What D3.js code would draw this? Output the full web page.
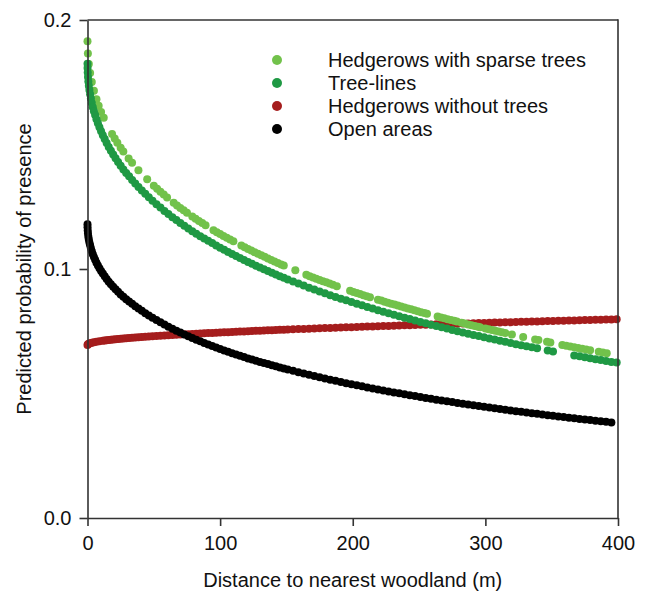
<!DOCTYPE html>
<html>
<head>
<meta charset="utf-8">
<script src="https://cdn.jsdelivr.net/npm/d3@7"></script>
<style>
  body { margin: 0; background: #fff; }
  svg { display: block; }
  text { font-family: "Liberation Sans", Arial, sans-serif; fill: #111; }
</style>
</head>
<body>
<svg id="chart" width="651" height="592"></svg>
<script>
// Habitat types shown in the legend (top to bottom)
const habitatNames = ["Hedgerows with sparse trees", "Tree-lines", "Hedgerows without trees", "Open areas"];

// Predicted probability of presence at each surveyed site: [distance to woodland (m), probability]
const sparseTrees = [
  [0,.1915],[0.3,.1865],[1,.1823],[1.96,.1787],[3.24,.1751],[4.84,.1716],[6.76,.1682],[8.41,.1656],[10.24,.1631],[12.25,.1607],
  [18.5,.1542],[20.5,.1524],[22.5,.1507],[25,.1487],[27,.1472],[31,.1444],[33.6,.1427],[38.4,.1397],[45,.1360],
  [50,.1334],[52.5,.1322],[55,.1310],[57.5,.1299],[60,.1287],
  [65,.1266],[67.5,.1255],[70,.1245],[72.5,.1236],[75,.1226],
  [79,.1211],[81.5,.1202],[84,.1193],[86.5,.1185],[89,.1176],
  [95,.1156],[97.5,.1148],[100,.1141],[102.5,.1133],[105,.1126],[107.5,.1118],[110,.1111],
  [116,.1094],[118.5,.1087],[121,.1080],[123.5,.1074],[126,.1067],[128.5,.1061],[131,.1055],[133.5,.1049],[136,.1042],[138.5,.1036],[141,.1030],[143.5,.1024],[146,.1018],[148,.1014],
  [156.7,.0995],
  [165,.0977],[167.5,.0971],[170,.0966],[172.5,.0961],[175,.0956],[177.5,.0951],[180,.0947],[182.5,.0942],[185,.0937],[188,.0931],
  [198,.0913],[200.5,.0908],[203,.0904],[205.5,.0900],[208,.0895],[210.5,.0891],[213,.0887],
  [219,.0877],[221.5,.0873],[224,.0868],[226.5,.0864],[229,.0860],[231.5,.0857],[234,.0853],[236.5,.0849],[239,.0845],[241.5,.0841],[244,.0838],[246.5,.0834],[249,.0830],[251.5,.0826],[254,.0823],[256,.0820],
  [264,.0809],[266.5,.0805],[269,.0802],[271.5,.0798],[274,.0795],[276.5,.0792],[278.5,.0789],
  [282,.0784],[284.5,.0781],[287,.0777],[289.5,.0774],[292,.0771],[294.5,.0768],[296,.0766],
  [300,.0761],[302.5,.0758],[305,.0755],[307.5,.0752],[310,.0749],[312.5,.0746],[315,.0743],
  [320,.0737],[328.5,.0727],[337.5,.0717],[340,.0715],[346.5,.0708],[349,.0705],
  [358,.0695],[361,.0692],[364,.0689],
  [367,.0686],[370,.0683],[373,.0680],[376,.0677],[379,.0674],
  [385.5,.0668],[388.5,.0665],[391.5,.0662]
];

const treeLines = [
  [0,.1824],[0.04,.1807],[0.16,.1789],[0.36,.1771],[0.64,.1753],[1,.1736],[1.44,.1719],[1.96,.1702],[2.56,.1685],[3.24,.1667],
  [4,.1650],[4.84,.1634],[5.76,.1618],[6.76,.1601],[7.84,.1585],[9,.1569],[10.24,.1553],[11.56,.1537],[12.96,.1522],[14.44,.1506],
  [16,.1490],[17.64,.1475],[19.36,.1460],[21.16,.1445],[23.04,.1430],[25,.1415],[27.04,.1400],[29.16,.1386],[31.36,.1372],[33.64,.1357],
  [36,.1343],[38.44,.1329],[40.96,.1315],[43.56,.1302],[46.24,.1288],[49,.1274],
  [52,.1260],[55,.1247],[58,.1233],[61,.1221],[64,.1208],[67,.1197],[70,.1185],[73,.1174],[76,.1163],[79,.1152],
  [82,.1142],[85,.1132],[88,.1122],[91,.1113],[94,.1104],[97,.1094],[100,.1085],[103,.1077],[106,.1068],[109,.1060],
  [112,.1052],[115,.1044],[118,.1036],[121,.1028],[124,.1021],[127,.1013],[130,.1006],[133,.0999],[136,.0992],[139,.0985],
  [142,.0978],[145,.0971],[148,.0965],[151,.0958],
  [155,.0950],[159,.0942],[163,.0934],[167,.0925],[171,.0918],[175,.0910],[179,.0903],[183,.0895],[187,.0888],[191,.0881],
  [195,.0874],[199,.0867],[203,.0860],[207,.0854],[211,.0847],[215,.0841],[219,.0834],[223,.0828],[227,.0822],[231,.0816],
  [235,.0810],[239,.0804],[243,.0799],[247,.0793],[251,.0787],[255,.0782],[259,.0776],[263,.0771],[267,.0766],[271,.0761],
  [275,.0755],[279,.0750],[283,.0745],[287,.0740],[291,.0735],[295,.0731],[299,.0726],[303,.0721],[307,.0717],[311,.0712],
  [315,.0708],[319,.0703],[323,.0698],[327,.0694],[331,.0690],[335,.0686],[339,.0682],[347,.0673],[351,.0669],
  [367,.0653],[371,.0650],[375,.0646],[379,.0642],[383,.0638],[387,.0635],[391,.0631],[395,.0627],[399,.0624]
];

const noTrees = [
  [0,.0695],[0.36,.0698],[1,.0700],[1.96,.0702],[3.24,.0704],[4.84,.0706],[6.76,.0708],[9,.0710],[11.56,.0712],[12.96,.0713],
  [14.44,.0714],[16,.0715],[17.64,.0716],[19.36,.0717],[21.16,.0718],[23.04,.0719],[25,.0720],[27.04,.0721],[29.16,.0722],[31.36,.0723],
  [33.64,.0724],[36,.0725],[38.44,.0726],[40.96,.0727],[43.56,.0728],[46.24,.0729],[49,.0730],
  [52,.0731],[55,.0732],[58,.0733],[61,.0734],[64,.0735],[67,.0736],[70,.0737],[73,.0738],[76,.0738],[79,.0739],
  [82,.0740],[85,.0741],[88,.0742],[91,.0743],[94,.0743],[97,.0744],[100,.0745],[103,.0746],[106,.0746],[109,.0747],
  [112,.0748],[115,.0749],[118,.0749],[121,.0750],[124,.0751],[127,.0752],[130,.0752],[133,.0753],[136,.0754],[139,.0754],
  [142,.0755],[145,.0756],[148,.0756],[151,.0757],
  [155,.0758],[159,.0759],[163,.0759],[167,.0760],[171,.0761],[175,.0762],[179,.0763],[183,.0763],[187,.0764],[191,.0765],
  [195,.0766],[199,.0766],[203,.0767],[207,.0768],[211,.0769],[215,.0769],[219,.0770],[223,.0771],[227,.0771],[231,.0772],
  [235,.0773],[239,.0774],[243,.0774],[247,.0775],[251,.0776],[255,.0776],[259,.0777],[263,.0778],[267,.0778],[271,.0779],
  [275,.0780],[279,.0780],[283,.0781],[287,.0781],[291,.0782],[295,.0783],[299,.0783],[303,.0784],[307,.0785],[311,.0785],
  [315,.0786],[319,.0786],[323,.0787],[327,.0788],[331,.0788],[335,.0789],[339,.0789],[343,.0790],[347,.0791],[351,.0791],
  [355,.0792],[359,.0792],[363,.0793],[367,.0793],[371,.0794],[375,.0795],[379,.0795],[383,.0796],[387,.0796],[391,.0797],
  [395,.0797],[399,.0798]
];

const openAreas = [
  [0,.1180],[0.04,.1168],[0.16,.1155],[0.36,.1143],[0.64,.1130],[1,.1118],[1.44,.1106],[1.96,.1095],[2.56,.1083],[3.24,.1071],
  [4,.1059],[4.84,.1048],[5.76,.1037],[6.76,.1025],[7.84,.1014],[9,.1003],[10.24,.0992],[11.56,.0982],[12.96,.0971],[14.44,.0960],
  [16,.0949],[17.64,.0939],[19.36,.0929],[21.16,.0919],[23.04,.0909],[25,.0898],[27.04,.0889],[29.16,.0879],[31.36,.0869],[33.64,.0860],
  [36,.0850],[38.44,.0841],[40.96,.0832],[43.56,.0822],[46.24,.0813],[49,.0804],
  [52,.0795],[55,.0786],[58,.0777],[61,.0768],[64,.0760],[67,.0752],[70,.0745],[73,.0737],[76,.0730],[79,.0723],
  [82,.0716],[85,.0710],[88,.0703],[91,.0697],[94,.0691],[97,.0685],[100,.0679],[103,.0673],[106,.0668],[109,.0662],
  [112,.0657],[115,.0652],[118,.0647],[121,.0641],[124,.0637],[127,.0632],[130,.0627],[133,.0622],[136,.0618],[139,.0613],
  [142,.0609],[145,.0604],[148,.0600],[151,.0596],
  [155,.0591],[159,.0585],[163,.0580],[167,.0575],[171,.0570],[175,.0565],[179,.0560],[183,.0555],[187,.0551],[191,.0546],
  [195,.0541],[199,.0537],[203,.0533],[207,.0529],[211,.0524],[215,.0520],[219,.0516],[223,.0512],[227,.0508],[231,.0504],
  [235,.0501],[239,.0497],[243,.0493],[247,.0490],[251,.0486],[255,.0482],[259,.0479],[263,.0475],[267,.0472],[271,.0469],
  [275,.0466],[279,.0462],[283,.0459],[287,.0456],[291,.0453],[295,.0450],[299,.0447],[303,.0444],[307,.0441],[311,.0438],
  [315,.0435],[319,.0432],[323,.0429],[327,.0427],[331,.0424],[335,.0421],[339,.0419],[343,.0416],[347,.0413],[351,.0411],
  [355,.0408],[359,.0406],[363,.0403],[367,.0401],[371,.0398],[375,.0396],[379,.0394],[383,.0391],[387,.0389],[391,.0387],
  [395,.0384]
];

const xTickValues = [0, 100, 200, 300, 400];
const yTickValues = [0, 0.1, 0.2];

// Marker colours per habitat
const habitatColors = {
  "Hedgerows with sparse trees": "#72c24b",
  "Tree-lines": "#1f9944",
  "Hedgerows without trees": "#a51d1d",
  "Open areas": "#000000"
};

const svg = d3.select("#chart");
const plotLeft = 87.5, plotRight = 618, plotTop = 20, plotBottom = 518;

const x = d3.scaleLinear().domain([0, 400]).range([plotLeft, plotRight]);
const y = d3.scaleLinear().domain([0, 0.2]).range([plotBottom, plotTop]);

// Point clouds, drawn back to front
const layers = [
  { name: "Hedgerows without trees", data: noTrees },
  { name: "Hedgerows with sparse trees", data: sparseTrees },
  { name: "Tree-lines", data: treeLines },
  { name: "Open areas", data: openAreas }
];

const plot = svg.append("g");
layers.forEach(layer => {
  plot.append("g")
    .selectAll("circle")
    .data(layer.data)
    .join("circle")
    .attr("cx", d => x(d[0]))
    .attr("cy", d => y(d[1]))
    .attr("r", 4)
    .attr("fill", habitatColors[layer.name]);
});

// Axes
const axisColor = "#333";
const xAxis = svg.append("g")
  .attr("transform", `translate(0,${plotBottom})`)
  .call(d3.axisBottom(x).tickValues(xTickValues).tickFormat(d3.format("d"))
    .tickSize(8).tickSizeOuter(0).tickPadding(10));
const yAxis = svg.append("g")
  .attr("transform", `translate(${plotLeft},0)`)
  .call(d3.axisLeft(y).tickValues(yTickValues).tickFormat(d3.format(".1f"))
    .tickSize(8).tickSizeOuter(0).tickPadding(8));

[xAxis, yAxis].forEach(g => {
  g.select(".domain").attr("stroke", axisColor).attr("stroke-width", 1.6);
  g.selectAll(".tick line").attr("stroke", axisColor).attr("stroke-width", 1.6);
  g.selectAll(".tick text")
    .attr("fill", "#111")
    .style("font-size", "20px")
    .style("font-family", '"Liberation Sans", Arial, sans-serif');
});

// Closing frame: top and right edges
svg.append("line")
  .attr("x1", x(0)).attr("x2", x(400)).attr("y1", y(0.2)).attr("y2", y(0.2))
  .attr("stroke", axisColor).attr("stroke-width", 1.6);
svg.append("line")
  .attr("x1", x(400)).attr("x2", x(400)).attr("y1", y(0.2)).attr("y2", y(0))
  .attr("stroke", axisColor).attr("stroke-width", 1.6).attr("stroke-linecap", "square");

// Axis titles
svg.append("text")
  .attr("x", (plotLeft + plotRight) / 2)
  .attr("y", 587)
  .attr("text-anchor", "middle")
  .style("font-size", "20px")
  .text("Distance to nearest woodland (m)");

svg.append("text")
  .attr("transform", `translate(31,${(plotTop + plotBottom) / 2}) rotate(-90)`)
  .attr("text-anchor", "middle")
  .style("font-size", "20px")
  .text("Predicted probability of presence");

// Legend
const legend = svg.append("g");
habitatNames.forEach((name, i) => {
  const ly = 60 + i * 23;
  legend.append("circle")
    .attr("cx", 277).attr("cy", ly).attr("r", 5)
    .attr("fill", habitatColors[name]);
  legend.append("text")
    .attr("x", 328).attr("y", ly + 7)
    .style("font-size", "20px")
    .text(name);
});
</script>
</body>
</html>
